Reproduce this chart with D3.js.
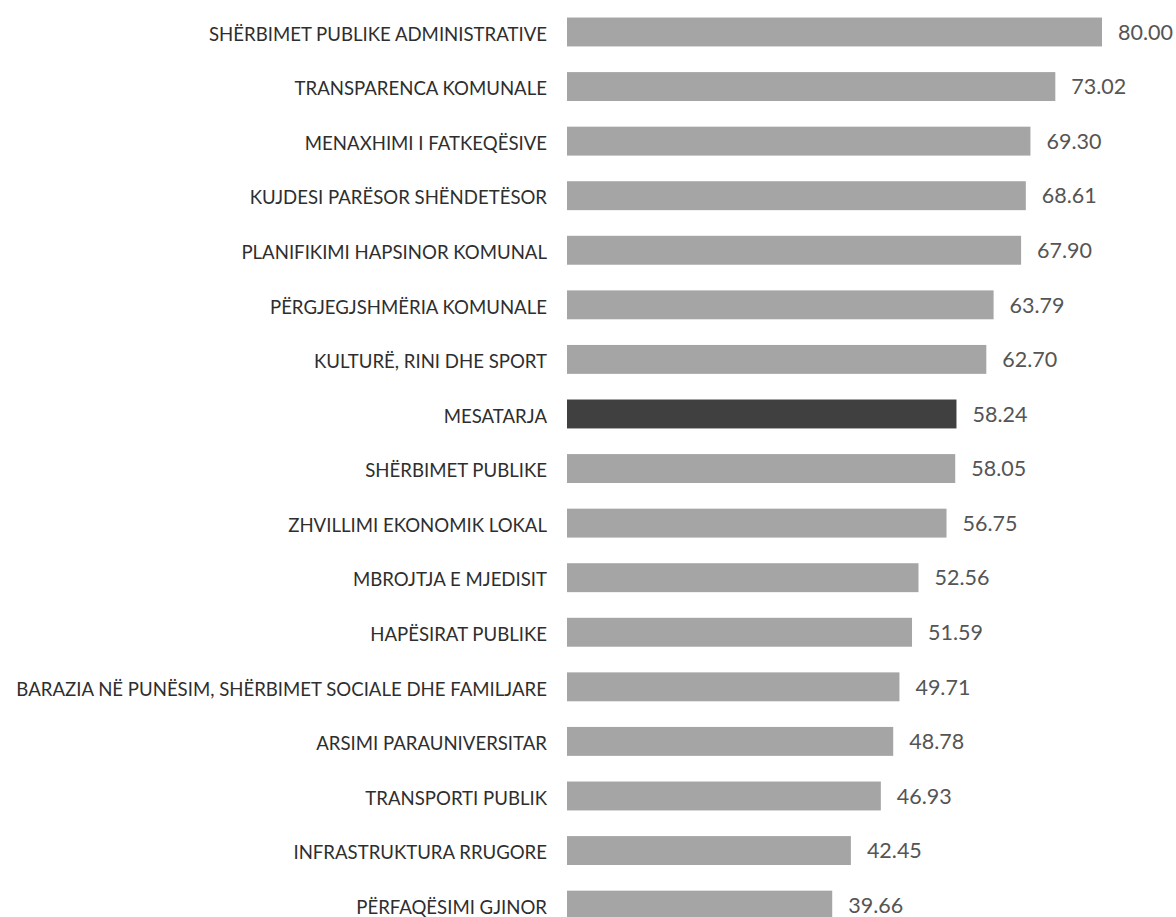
<!DOCTYPE html>
<html>
<head>
<meta charset="utf-8">
<script src="https://cdn.jsdelivr.net/npm/d3@7"></script>
<style>
  html, body { margin: 0; padding: 0; background: #ffffff; }
  svg { display: block; }
</style>
</head>
<body>
<script>
const categories = [
  "SHËRBIMET PUBLIKE ADMINISTRATIVE",
  "TRANSPARENCA KOMUNALE",
  "MENAXHIMI I FATKEQËSIVE",
  "KUJDESI PARËSOR SHËNDETËSOR",
  "PLANIFIKIMI HAPSINOR KOMUNAL",
  "PËRGJEGJSHMËRIA KOMUNALE",
  "KULTURË, RINI DHE SPORT",
  "MESATARJA",
  "SHËRBIMET PUBLIKE",
  "ZHVILLIMI EKONOMIK LOKAL",
  "MBROJTJA E MJEDISIT",
  "HAPËSIRAT PUBLIKE",
  "BARAZIA NË PUNËSIM, SHËRBIMET SOCIALE DHE FAMILJARE",
  "ARSIMI PARAUNIVERSITAR",
  "TRANSPORTI PUBLIK",
  "INFRASTRUKTURA RRUGORE",
  "PËRFAQËSIMI GJINOR"
];
const values = [80.00, 73.02, 69.30, 68.61, 67.90, 63.79, 62.70, 58.24, 58.05, 56.75, 52.56, 51.59, 49.71, 48.78, 46.93, 42.45, 39.66];
const highlighted = ["MESATARJA"];

const W = 1176, H = 917;
const svg = d3.select("body").append("svg").attr("width", W).attr("height", H);

const x = d3.scaleLinear().domain([0, 80]).range([567, 1102]);
const y = d3.scaleBand().domain(categories).range([4.7, 932.4]).paddingInner(0.47).paddingOuter(0.235);

const rows = categories.map((c, i) => ({ c, v: values[i] }));

svg.selectAll("rect.bar").data(rows).enter().append("rect")
  .attr("class", "bar")
  .attr("x", x(0))
  .attr("y", d => y(d.c))
  .attr("width", d => x(d.v) - x(0))
  .attr("height", y.bandwidth())
  .attr("fill", d => highlighted.includes(d.c) ? "#404040" : "#a5a5a5");

svg.selectAll("text.cat").data(rows).enter().append("text")
  .attr("class", "cat")
  .attr("x", 547)
  .attr("y", d => y(d.c) + y.bandwidth() / 2 + 2)
  .attr("dy", "0.36em")
  .attr("text-anchor", "end")
  .attr("font-family", "Lato, sans-serif")
  .attr("font-size", 18.6)
  .attr("fill", "#2e2e2e")
  .text(d => d.c);

svg.selectAll("text.val").data(rows).enter().append("text")
  .attr("class", "val")
  .attr("x", d => x(d.v) + 16)
  .attr("y", d => y(d.c) + y.bandwidth() / 2)
  .attr("dy", "0.36em")
  .attr("text-anchor", "start")
  .attr("font-family", "Lato, sans-serif")
  .attr("font-size", 21.5)
  .attr("fill", "#555555")
  .text(d => d3.format(".2f")(d.v));
</script>
</body>
</html>
